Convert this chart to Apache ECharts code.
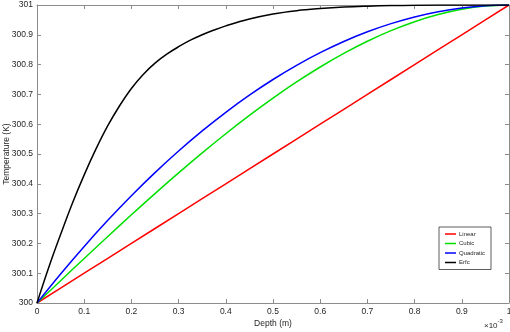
<!DOCTYPE html>
<html>
<head>
<meta charset="utf-8">
<script src="https://cdn.jsdelivr.net/npm/echarts@6/dist/echarts.min.js"></script>
<style>
  html, body { margin: 0; padding: 0; background: #fff; }
  #chart { width: 510px; height: 332px; }
</style>
</head>
<body>
<div id="chart"></div>
<script>
// depth in units of 1e-3 m
const depth = [0, 0.05, 0.1, 0.15, 0.2, 0.25, 0.3, 0.35, 0.4, 0.45, 0.5,
               0.55, 0.6, 0.65, 0.7, 0.75, 0.8, 0.85, 0.9, 0.95, 1];

const linearT = [300, 300.05, 300.1, 300.15, 300.2, 300.25, 300.3, 300.35, 300.4, 300.45, 300.5,
                 300.55, 300.6, 300.65, 300.7, 300.75, 300.8, 300.85, 300.9, 300.95, 301];
const cubicT = [300, 300.0749, 300.1495, 300.2233, 300.296, 300.3672, 300.4365, 300.5036, 300.568, 300.6294, 300.6875,
                300.7418, 300.792, 300.8377, 300.8785, 300.9141, 300.944, 300.9679, 300.9855, 300.9963, 301];
const quadT = [300, 300.0975, 300.19, 300.2775, 300.36, 300.4375, 300.51, 300.5775, 300.64, 300.6975, 300.75,
               300.7975, 300.84, 300.8775, 300.91, 300.9375, 300.96, 300.9775, 300.99, 300.9975, 301];

// erfc profile is steep near the surface, so it gets a finer depth grid
const erfcDepth = [0, 0.025, 0.05, 0.075, 0.1, 0.125, 0.15, 0.175, 0.2, 0.225, 0.25, 0.275, 0.3,
                   0.325, 0.35, 0.375, 0.4, 0.45, 0.5, 0.55, 0.6, 0.65, 0.7, 0.75, 0.8, 0.9, 1];
const erfcT = [300, 300.12, 300.23, 300.335, 300.43, 300.517, 300.595, 300.662, 300.72, 300.767, 300.805, 300.835, 300.86,
               300.882, 300.9, 300.916, 300.93, 300.953, 300.97, 300.981, 300.988, 300.993, 300.996, 300.998, 300.999, 301, 301];

const names = ['Linear', 'Cubic', 'Quadratic', 'Erfc'];
const colors = ['#ff0000', '#00e000', '#0000ff', '#000000'];
const seriesX = [depth, depth, depth, erfcDepth];
const seriesY = [linearT, cubicT, quadT, erfcT];

const xTicks = { min: 0, max: 1, interval: 0.1 };
const yTicks = { min: 300, max: 301, interval: 0.1 };

const axisColor = '#8c8c8c';
const labelColor = '#262626';
const font = 'Liberation Sans, Arial, sans-serif';

const chart = echarts.init(document.getElementById('chart'));

function boxAxis(base, extra) {
    return Object.assign({
        type: 'value',
        min: base.min,
        max: base.max,
        interval: base.interval,
        splitLine: { show: false },
        axisLine: { show: true, onZero: false, lineStyle: { color: axisColor, width: 1 } },
        axisTick: { show: true, inside: true, length: 4, lineStyle: { color: axisColor } },
        axisLabel: { show: false }
    }, extra);
}

const option = {
    animation: false,
    backgroundColor: '#fff',
    grid: { left: 37, right: 1, top: 5, bottom: 29, outerBoundsMode: 'none' },
    xAxis: [
        boxAxis(xTicks, {
            position: 'bottom',
            name: 'Depth (m)',
            nameLocation: 'middle',
            nameGap: 16,
            nameMoveOverlap: false,
            nameTextStyle: { color: labelColor, fontSize: 8.5, fontFamily: font },
            axisLabel: { show: true, color: labelColor, fontSize: 8.5, fontFamily: font, margin: 4 }
        }),
        boxAxis(xTicks, { position: 'top' })
    ],
    yAxis: [
        boxAxis(yTicks, {
            position: 'left',
            name: 'Temperature (K)',
            nameLocation: 'middle',
            nameGap: 26,
            nameMoveOverlap: false,
            nameTextStyle: { color: labelColor, fontSize: 8.5, fontFamily: font },
            axisLabel: { show: true, color: labelColor, fontSize: 8.5, fontFamily: font, margin: 4 }
        }),
        boxAxis(yTicks, { position: 'right' })
    ],
    legend: {
        data: names,
        orient: 'vertical',
        left: 439,
        top: 227,
        icon: 'rect',
        itemWidth: 11,
        itemHeight: 1.5,
        itemGap: 3.5,
        padding: [4, 6, 4, 6],
        backgroundColor: '#fff',
        borderColor: '#333',
        borderWidth: 0.8,
        borderRadius: 0,
        textStyle: { fontSize: 6, color: labelColor, fontFamily: font, padding: [0, 0, 0, -2] }
    },
    graphic: [{
        type: 'text',
        left: 484,
        top: 318,
        style: {
            text: '{a|×10}{b|-3}',
            rich: {
                a: { fontSize: 8, fill: labelColor, fontFamily: font, verticalAlign: 'bottom' },
                b: { fontSize: 6, fill: labelColor, fontFamily: font, verticalAlign: 'top', padding: [0, 0, 6, 0] }
            }
        }
    }],
    series: names.map((name, i) => ({
        name: name,
        type: 'line',
        xAxisIndex: 0,
        yAxisIndex: 0,
        smooth: i > 0 ? 0.4 : false,
        showSymbol: false,
        symbol: 'none',
        color: colors[i],
        lineStyle: { color: colors[i], width: 1.5 },
        data: seriesX[i].map((d, k) => [d, seriesY[i][k]])
    }))
};

chart.setOption(option);
</script>
</body>
</html>
